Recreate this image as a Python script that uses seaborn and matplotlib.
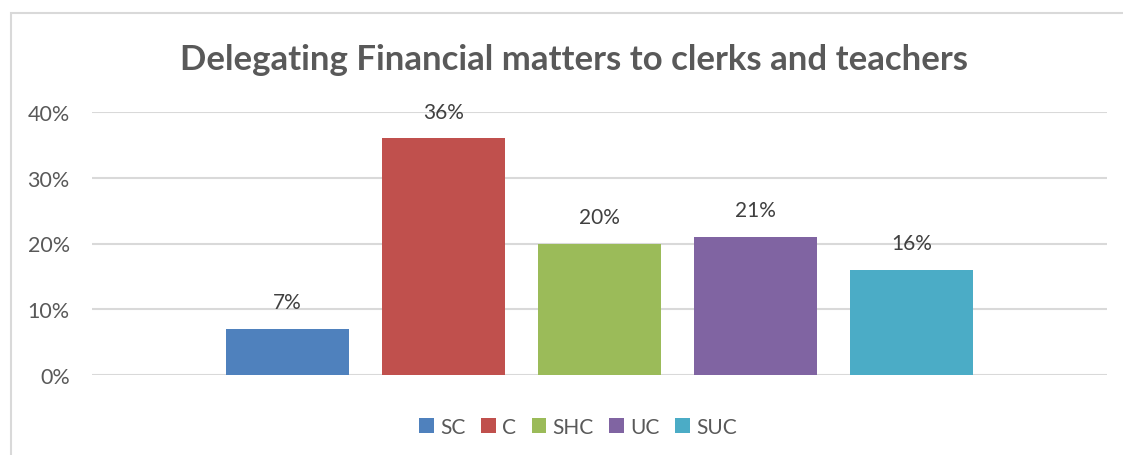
import matplotlib
matplotlib.use("Agg")
import matplotlib.pyplot as plt
from matplotlib.patches import Rectangle, Patch
from matplotlib.ticker import FuncFormatter
import seaborn as sns
import pandas as pd

# Response categories and their shares
categories = ["SC", "C", "SHC", "UC", "SUC"]
shares = [0.07, 0.36, 0.20, 0.21, 0.16]
colors = ["#4F81BD", "#C0504D", "#9BBB59", "#8064A2", "#4BACC6"]
y_ticks = [0.0, 0.1, 0.2, 0.3, 0.4]
title = "Delegating Financial matters to clerks and teachers"

sns.set_theme(style="white")
plt.rcParams["font.family"] = ["Lato", "DejaVu Sans"]

text_gray = "#595959"
grid_gray = "#D9D9D9"

df = pd.DataFrame({"category": categories, "share": shares})

fig = plt.figure(figsize=(11.23, 4.56), dpi=100)
ax = fig.add_axes([92 / 1123, (456 - 376) / 456, (1107 - 92) / 1123, 263 / 456])

sns.barplot(data=df, x="category", y="share", hue="category",
            palette=colors, width=123 / 156, legend=False, ax=ax,
            saturation=1, linewidth=0, edgecolor="none")

half = (1107 - 92) / 156 / 2
ax.set_xlim(2 - half, 2 + half)
ax.set_ylim(0, 0.4)
ax.set_yticks(y_ticks)
ax.yaxis.set_major_formatter(FuncFormatter(lambda v, _: f"{v * 100:.0f}%"))
ax.set_xticks([])
ax.set_xlabel("")
ax.set_ylabel("")
ax.tick_params(axis="y", length=0, pad=16, labelsize=15.5, labelcolor=text_gray)
for s in ax.spines.values():
    s.set_visible(False)
ax.yaxis.grid(True, color=grid_gray, linewidth=1.5)
ax.set_axisbelow(True)

for container in ax.containers:
    ax.bar_label(container, labels=[f"{v * 100:.0f}%" for v in container.datavalues],
                 padding=12, fontsize=15, color="#404040")

handles = [Patch(facecolor=c, edgecolor="none") for c in colors]
fig.legend(handles, categories, loc="center", bbox_to_anchor=(578 / 1123, 1 - 428 / 456),
           ncol=5, frameon=False, fontsize=15, handlelength=0.7, handleheight=0.7,
           handletextpad=0.3, columnspacing=0.75, labelcolor=text_gray)

fig.text(574 / 1123, 1 - 60 / 456, title, ha="center", va="center",
         fontsize=25, fontweight="bold", color=text_gray)

# Chart frame, running off the right and bottom edges
frame = Rectangle((11 / 1123, -0.1), 1.2, (456 - 14) / 456 + 0.1,
                  transform=fig.transFigure, fill=False,
                  edgecolor=grid_gray, linewidth=1.5, clip_on=False)
fig.patches.append(frame)

fig.savefig("out.png", dpi=100, facecolor="white")
